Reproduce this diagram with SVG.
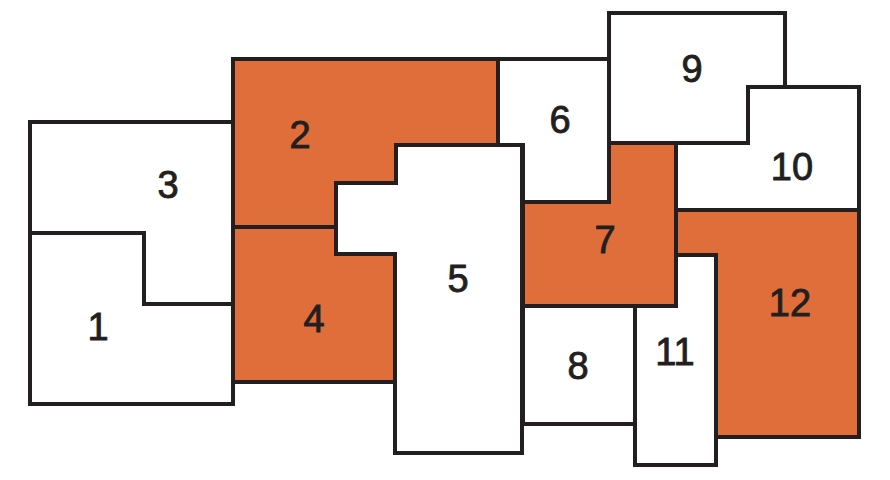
<svg xmlns="http://www.w3.org/2000/svg" width="890" height="480" viewBox="0 0 890 480">
<style>
.w{fill:#ffffff;stroke:#231f20;stroke-width:4;stroke-linejoin:miter}
.o{fill:#e06e3a;stroke:#231f20;stroke-width:4;stroke-linejoin:miter}
.t{font-family:"Liberation Sans",Arial,sans-serif;font-size:38px;fill:#231f20;stroke:#231f20;stroke-width:0.9;text-anchor:middle}
</style>
<rect width="890" height="480" fill="#ffffff"/>
<g id="n3"><polygon class="w" points="30,122 233,122 233,304 144,304 144,233 30,233"/><text class="t" x="168" y="198">3</text></g>
<g id="n1"><polygon class="w" points="30,233 144,233 144,304 233,304 233,404 30,404"/><text class="t" x="98" y="340">1</text></g>
<g id="n2"><polygon class="o" points="233,59 498,59 498,145 396,145 396,183 336,183 336,227 233,227"/><text class="t" x="300" y="148">2</text></g>
<g id="n4"><polygon class="o" points="233,227 336,227 336,254 395,254 395,382 233,382"/><text class="t" x="314" y="332">4</text></g>
<g id="n5"><polygon class="w" points="396,145 522,145 522,453 395,453 395,254 336,254 336,183 396,183"/><text class="t" x="458" y="292">5</text></g>
<g id="n6"><polygon class="w" points="498,59 609,59 609,202 523,202 523,145 498,145"/><text class="t" x="560" y="133">6</text></g>
<g id="n9"><polygon class="w" points="609,13 785,13 785,87 748,87 748,143 609,143"/><text class="t" x="692" y="82">9</text></g>
<g id="n10"><polygon class="w" points="748,87 859,87 859,210 676,210 676,143 748,143"/><text class="t" x="792" y="180">10</text></g>
<g id="n7"><polygon class="o" points="609,143 676,143 676,306 523,306 523,202 609,202"/><text class="t" x="605" y="253">7</text></g>
<g id="n12"><polygon class="o" points="676,210 859,210 859,437 716,437 716,255 676,255"/><text class="t" x="790" y="316">12</text></g>
<g id="n8"><polygon class="w" points="523,306 635,306 635,424 523,424"/><text class="t" x="578" y="379">8</text></g>
<g id="n11"><polygon class="w" points="676,255 716,255 716,465 635,465 635,306 676,306"/><text class="t" x="675" y="365">11</text></g>
<g id="connectors"></g>
</svg>
